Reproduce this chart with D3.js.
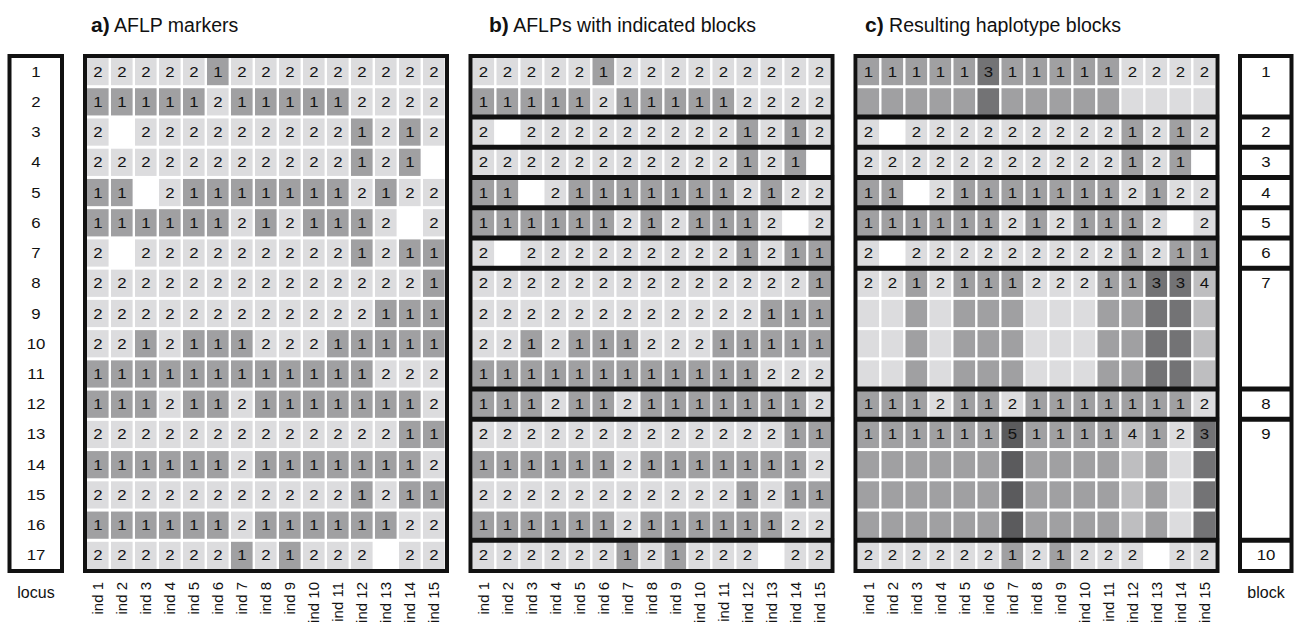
<!DOCTYPE html>
<html>
<head>
<meta charset="utf-8">
<script src="https://cdn.jsdelivr.net/npm/d3@7"></script>
<style>
	body { margin: 0; background: #fff; }
	svg text { font-family: "Liberation Sans", Arial, Helvetica, sans-serif; fill: #111; }
</style>
</head>
<body>
<div id="chart"></div>
<script>
var width = 1295;
var height = 625;

// loci (rows) and individuals (columns)
var loci = [1, 2, 3, 4, 5, 6, 7, 8, 9, 10, 11, 12, 13, 14, 15, 16, 17];
var individuals = ['ind 1', 'ind 2', 'ind 3', 'ind 4', 'ind 5', 'ind 6', 'ind 7', 'ind 8',
	'ind 9', 'ind 10', 'ind 11', 'ind 12', 'ind 13', 'ind 14', 'ind 15'];

// AFLP scores per locus, 0 = missing
var aflp = [
	[2, 2, 2, 2, 2, 1, 2, 2, 2, 2, 2, 2, 2, 2, 2],
	[1, 1, 1, 1, 1, 2, 1, 1, 1, 1, 1, 2, 2, 2, 2],
	[2, 0, 2, 2, 2, 2, 2, 2, 2, 2, 2, 1, 2, 1, 2],
	[2, 2, 2, 2, 2, 2, 2, 2, 2, 2, 2, 1, 2, 1, 0],
	[1, 1, 0, 2, 1, 1, 1, 1, 1, 1, 1, 2, 1, 2, 2],
	[1, 1, 1, 1, 1, 1, 2, 1, 2, 1, 1, 1, 2, 0, 2],
	[2, 0, 2, 2, 2, 2, 2, 2, 2, 2, 2, 1, 2, 1, 1],
	[2, 2, 2, 2, 2, 2, 2, 2, 2, 2, 2, 2, 2, 2, 1],
	[2, 2, 2, 2, 2, 2, 2, 2, 2, 2, 2, 2, 1, 1, 1],
	[2, 2, 1, 2, 1, 1, 1, 2, 2, 2, 1, 1, 1, 1, 1],
	[1, 1, 1, 1, 1, 1, 1, 1, 1, 1, 1, 1, 2, 2, 2],
	[1, 1, 1, 2, 1, 1, 2, 1, 1, 1, 1, 1, 1, 1, 2],
	[2, 2, 2, 2, 2, 2, 2, 2, 2, 2, 2, 2, 2, 1, 1],
	[1, 1, 1, 1, 1, 1, 2, 1, 1, 1, 1, 1, 1, 1, 2],
	[2, 2, 2, 2, 2, 2, 2, 2, 2, 2, 2, 1, 2, 1, 1],
	[1, 1, 1, 1, 1, 1, 2, 1, 1, 1, 1, 1, 1, 2, 2],
	[2, 2, 2, 2, 2, 2, 1, 2, 1, 2, 2, 2, 0, 2, 2]
];

// haplotype blocks: first and last locus of each block
var blockNames = [1, 2, 3, 4, 5, 6, 7, 8, 9, 10];
var blockFirst = [1, 3, 4, 5, 6, 7, 8, 12, 13, 17];
var blockLast = [2, 3, 4, 5, 6, 7, 11, 12, 16, 17];

// resulting haplotype of each individual per block
var haplotypes = [
	[1, 1, 1, 1, 1, 3, 1, 1, 1, 1, 1, 2, 2, 2, 2],
	[2, 0, 2, 2, 2, 2, 2, 2, 2, 2, 2, 1, 2, 1, 2],
	[2, 2, 2, 2, 2, 2, 2, 2, 2, 2, 2, 1, 2, 1, 0],
	[1, 1, 0, 2, 1, 1, 1, 1, 1, 1, 1, 2, 1, 2, 2],
	[1, 1, 1, 1, 1, 1, 2, 1, 2, 1, 1, 1, 2, 0, 2],
	[2, 0, 2, 2, 2, 2, 2, 2, 2, 2, 2, 1, 2, 1, 1],
	[2, 2, 1, 2, 1, 1, 1, 2, 2, 2, 1, 1, 3, 3, 4],
	[1, 1, 1, 2, 1, 1, 2, 1, 1, 1, 1, 1, 1, 1, 2],
	[1, 1, 1, 1, 1, 1, 5, 1, 1, 1, 1, 4, 1, 2, 3],
	[2, 2, 2, 2, 2, 2, 1, 2, 1, 2, 2, 2, 0, 2, 2]
];

var titles = [['a)', ' AFLP markers'], ['b)', ' AFLPs with indicated blocks'], ['c)', ' Resulting haplotype blocks']];

var fill = {0: '#ffffff', 1: '#a0a0a2', 2: '#dcdcde', 3: '#737375', 4: '#bebec0', 5: '#5b5b5d'};
var frameColor = '#111';

var panelX = [87, 472.5, 857.5];
var panelW = 357.6;
var top_y = 58;
var bottom_y = 569;

// digits in the figure are drawn a bit wide
var digitSize = '14px';
var digitStretch = 1.2;

var svg = d3.select('#chart')
			.append('svg')
			.attr('width', width)
			.attr('height', height);

var y_scale = d3.scaleBand()
				.domain(loci)
				.range([top_y, bottom_y])
				.paddingInner(0.1);

var bw = y_scale.bandwidth();

function blockOf(locus) {
	for (var b = 0; b < blockFirst.length; b++) {
		if (locus >= blockFirst[b] && locus <= blockLast[b]) return b;
	}
	return -1;
}

// y of the separator line above a block
function sepY(locus) {
	return (y_scale(locus - 1) + bw + y_scale(locus)) / 2;
}

function digitAt(x, y) {
	return 'translate(' + x + ',' + y + ') scale(' + digitStretch + ',1)';
}

function drawPanel(p) {
	var x0 = panelX[p];
	var x_scale = d3.scaleBand()
					.domain(individuals)
					.range([x0, x0 + panelW])
					.paddingInner(0.1);

	var g = svg.append('g').attr('class', 'panel-' + p);

	var cells = [];
	loci.forEach(function(l, i) {
		var b = blockOf(l);
		individuals.forEach(function(ind, j) {
			var v = p < 2 ? aflp[i][j] : haplotypes[b][j];
			var showText = p < 2 || l === blockFirst[b];
			cells.push({locus: l, ind: ind, v: v, label: showText && v > 0 ? v : ''});
		});
	});

	g.selectAll('rect.cell')
		.data(cells)
		.enter()
		.append('rect')
		.attr('class', 'cell')
		.attr('x', function(d) { return x_scale(d.ind); })
		.attr('y', function(d) { return y_scale(d.locus); })
		.attr('width', x_scale.bandwidth())
		.attr('height', bw)
		.attr('fill', function(d) { return fill[d.v]; });

	g.selectAll('text.val')
		.data(cells.filter(function(d) { return d.label !== ''; }))
		.enter()
		.append('text')
		.attr('class', 'val')
		.attr('transform', function(d) {
			return digitAt(x_scale(d.ind) + x_scale.bandwidth() / 2, y_scale(d.locus) + bw / 2);
		})
		.attr('dy', '0.36em')
		.attr('text-anchor', 'middle')
		.style('font-size', digitSize)
		.text(function(d) { return d.label; });

	// block separators
	if (p > 0) {
		g.selectAll('line.sep')
			.data(blockFirst.slice(1))
			.enter()
			.append('line')
			.attr('x1', x0 - 2)
			.attr('x2', x0 + panelW + 4)
			.attr('y1', function(d) { return sepY(d); })
			.attr('y2', function(d) { return sepY(d); })
			.attr('stroke', frameColor)
			.attr('stroke-width', 5);
	}

	g.append('rect')
		.attr('x', x0 - 2)
		.attr('y', top_y - 2)
		.attr('width', panelW + 4.4)
		.attr('height', bottom_y - top_y + 4)
		.attr('fill', 'none')
		.attr('stroke', frameColor)
		.attr('stroke-width', 4);

	// individual labels
	g.selectAll('text.ind')
		.data(individuals)
		.enter()
		.append('text')
		.attr('class', 'ind')
		.attr('transform', function(d) {
			return 'translate(' + (x_scale(d) + x_scale.bandwidth() / 2) + ',582) rotate(-90)';
		})
		.attr('dy', '0.35em')
		.attr('text-anchor', 'end')
		.style('font-size', '15px')
		.text(function(d) { return d; });

	// title
	var titleX = [91, 489, 865];
	var t = g.append('text')
		.attr('x', titleX[p])
		.attr('y', 32)
		.style('font-size', '19.5px');
	t.append('tspan').style('font-weight', 'bold').style('font-size', '21px').text(titles[p][0]);
	t.append('tspan').text(titles[p][1]);
}

drawPanel(0);
drawPanel(1);
drawPanel(2);

// locus box
var locusG = svg.append('g');
locusG.append('rect')
	.attr('x', 9.5)
	.attr('y', top_y - 2)
	.attr('width', 52.5)
	.attr('height', bottom_y - top_y + 4)
	.attr('fill', 'none')
	.attr('stroke', frameColor)
	.attr('stroke-width', 4);

locusG.selectAll('text.loc')
	.data(loci)
	.enter()
	.append('text')
	.attr('transform', function(d) { return digitAt(36, y_scale(d) + bw / 2); })
	.attr('dy', '0.36em')
	.attr('text-anchor', 'middle')
	.style('font-size', digitSize)
	.text(function(d) { return d; });

locusG.append('text')
	.attr('x', 36)
	.attr('y', 598)
	.attr('text-anchor', 'middle')
	.style('font-size', '16px')
	.text('locus');

// block box
var blockG = svg.append('g');
blockG.selectAll('line.bsep')
	.data(blockFirst.slice(1))
	.enter()
	.append('line')
	.attr('x1', 1240)
	.attr('x2', 1291.5)
	.attr('y1', function(d) { return sepY(d); })
	.attr('y2', function(d) { return sepY(d); })
	.attr('stroke', frameColor)
	.attr('stroke-width', 5);

blockG.append('rect')
	.attr('x', 1240)
	.attr('y', top_y - 2)
	.attr('width', 51.5)
	.attr('height', bottom_y - top_y + 4)
	.attr('fill', 'none')
	.attr('stroke', frameColor)
	.attr('stroke-width', 4);

blockG.selectAll('text.blk')
	.data(blockNames)
	.enter()
	.append('text')
	.attr('transform', function(d, i) { return digitAt(1266, y_scale(blockFirst[i]) + bw / 2); })
	.attr('dy', '0.36em')
	.attr('text-anchor', 'middle')
	.style('font-size', digitSize)
	.text(function(d) { return d; });

blockG.append('text')
	.attr('x', 1266)
	.attr('y', 598)
	.attr('text-anchor', 'middle')
	.style('font-size', '16px')
	.text('block');
</script>
</body>
</html>
